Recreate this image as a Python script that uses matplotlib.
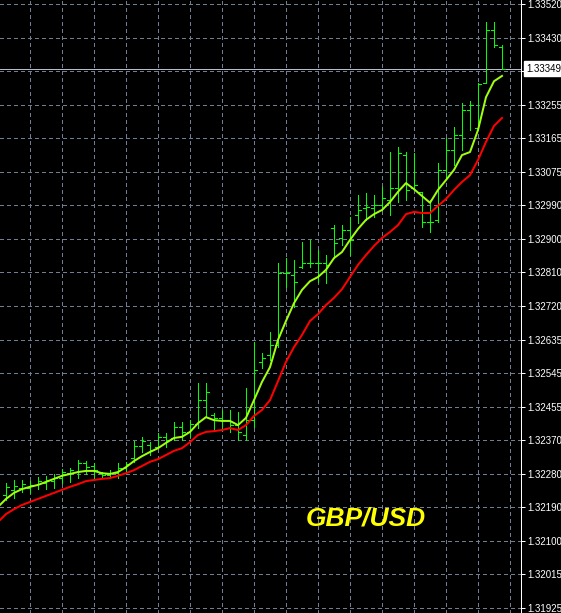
import numpy as np
import matplotlib.pyplot as plt
from matplotlib.transforms import blended_transform_factory

# OHLC bars (GBP/USD), oldest first
bar_open = [1.32223, 1.32237, 1.32242, 1.32242, 1.32250, 1.32255, 1.32260, 1.32268, 1.32281, 1.32284,
            1.32308, 1.32300, 1.32281, 1.32276, 1.32281, 1.32295, 1.32321, 1.32353, 1.32355, 1.32350,
            1.32377, 1.32374, 1.32403, 1.32390, 1.32411, 1.32474, 1.32435, 1.32427, 1.32421, 1.32408,
            1.32382, 1.32421, 1.32575, 1.32593, 1.32619, 1.32810, 1.32804, 1.32825, 1.32836, 1.32836,
            1.32836, 1.32928, 1.32902, 1.32923, 1.32963, 1.32981, 1.32981, 1.32989, 1.33002, 1.33034,
            1.33121, 1.33034, 1.33024, 1.32944, 1.32950, 1.33082, 1.33134, 1.33174, 1.33240, 1.33193,
            1.33311, 1.33451, 1.33406]
bar_high = [1.32255, 1.32263, 1.32263, 1.32260, 1.32271, 1.32274, 1.32279, 1.32292, 1.32295, 1.32316,
            1.32313, 1.32308, 1.32284, 1.32289, 1.32308, 1.32311, 1.32366, 1.32377, 1.32363, 1.32387,
            1.32387, 1.32416, 1.32416, 1.32421, 1.32519, 1.32519, 1.32440, 1.32448, 1.32448, 1.32443,
            1.32506, 1.32627, 1.32598, 1.32654, 1.32836, 1.32849, 1.32844, 1.32892, 1.32897, 1.32870,
            1.32857, 1.32936, 1.32936, 1.32958, 1.33016, 1.33021, 1.33016, 1.33037, 1.33129, 1.33142,
            1.33129, 1.33127, 1.33024, 1.33002, 1.33100, 1.33166, 1.33195, 1.33259, 1.33264, 1.33311,
            1.33472, 1.33472, 1.33412]
bar_low = [1.32210, 1.32215, 1.32231, 1.32229, 1.32239, 1.32239, 1.32242, 1.32255, 1.32258, 1.32268,
           1.32279, 1.32263, 1.32268, 1.32268, 1.32268, 1.32281, 1.32311, 1.32337, 1.32329, 1.32350,
           1.32350, 1.32369, 1.32369, 1.32377, 1.32400, 1.32429, 1.32395, 1.32395, 1.32390, 1.32369,
           1.32369, 1.32403, 1.32559, 1.32580, 1.32614, 1.32773, 1.32720, 1.32823, 1.32825, 1.32786,
           1.32783, 1.32849, 1.32884, 1.32857, 1.32942, 1.32950, 1.32958, 1.32976, 1.32963, 1.32997,
           1.33002, 1.33029, 1.32931, 1.32918, 1.32944, 1.33060, 1.33095, 1.33134, 1.33187, 1.33187,
           1.33311, 1.33406, 1.33349]
bar_close = [1.32245, 1.32247, 1.32252, 1.32250, 1.32260, 1.32263, 1.32268, 1.32284, 1.32289, 1.32308,
             1.32297, 1.32289, 1.32276, 1.32281, 1.32295, 1.32305, 1.32353, 1.32366, 1.32342, 1.32377,
             1.32369, 1.32403, 1.32390, 1.32411, 1.32474, 1.32495, 1.32427, 1.32421, 1.32408, 1.32390,
             1.32421, 1.32553, 1.32585, 1.32619, 1.32810, 1.32810, 1.32786, 1.32836, 1.32836, 1.32836,
             1.32831, 1.32889, 1.32923, 1.32897, 1.32976, 1.32984, 1.32989, 1.33008, 1.33034, 1.33127,
             1.33029, 1.33042, 1.32944, 1.32944, 1.33082, 1.33134, 1.33174, 1.33240, 1.33253, 1.33309,
             1.33451, 1.33412, 1.33349]

# moving averages, starting one bar left of the first visible bar
fast_ma = [1.32192, 1.32213, 1.32229, 1.32239, 1.32245, 1.32250, 1.32258, 1.32266, 1.32274, 1.32279,
           1.32284, 1.32287, 1.32287, 1.32281, 1.32279, 1.32284, 1.32297, 1.32313, 1.32326, 1.32337,
           1.32347, 1.32361, 1.32374, 1.32377, 1.32390, 1.32413, 1.32429, 1.32421, 1.32419, 1.32419,
           1.32408, 1.32427, 1.32474, 1.32522, 1.32561, 1.32633, 1.32683, 1.32730, 1.32765, 1.32788,
           1.32799, 1.32818, 1.32849, 1.32865, 1.32897, 1.32926, 1.32950, 1.32965, 1.32976, 1.32997,
           1.33024, 1.33047, 1.33031, 1.33013, 1.32995, 1.33029, 1.33055, 1.33082, 1.33121, 1.33129,
           1.33187, 1.33274, 1.33316, 1.33330]
slow_ma = [1.32152, 1.32173, 1.32186, 1.32197, 1.32205, 1.32213, 1.32221, 1.32229, 1.32237, 1.32245,
           1.32252, 1.32260, 1.32263, 1.32266, 1.32268, 1.32274, 1.32281, 1.32289, 1.32300, 1.32311,
           1.32318, 1.32329, 1.32340, 1.32347, 1.32363, 1.32382, 1.32390, 1.32392, 1.32395, 1.32400,
           1.32395, 1.32408, 1.32432, 1.32448, 1.32474, 1.32524, 1.32575, 1.32614, 1.32646, 1.32683,
           1.32701, 1.32725, 1.32744, 1.32767, 1.32799, 1.32831, 1.32857, 1.32881, 1.32902, 1.32918,
           1.32936, 1.32965, 1.32971, 1.32968, 1.32968, 1.32987, 1.33005, 1.33029, 1.33050, 1.33068,
           1.33108, 1.33156, 1.33198, 1.33219]

price_labels = ['1.31925', '1.32015', '1.32100', '1.32190', '1.32280', '1.32370', '1.32455',
                '1.32545', '1.32635', '1.32720', '1.32810', '1.32900', '1.32990', '1.33075',
                '1.33165', '1.33255', '', '1.33430', '1.33520']
last_price = 1.33349
pair = 'GBP/USD'

W, H = 561, 613
px = 0.72  # one pixel in points at dpi 100

fig = plt.figure(figsize=(W / 100, H / 100), dpi=100, facecolor='black')
ax = fig.add_axes([0, 0, 521 / W, 1], facecolor='black')

n = len(bar_close)
x = np.arange(n)

# grid
grid_kw = dict(color='#6f7f8f', lw=px, ls=(0, (3, 3)), antialiased=False, zorder=1)
tick_pos = np.linspace(1.31925, 1.33520, len(price_labels))
for y in tick_pos:
    ax.axhline(y, **grid_kw)
for xv in range(3, 64, 4):
    ax.axvline(xv, **grid_kw)

# current price line
ax.axhline(last_price, color='#b8bcc4', lw=px, antialiased=False, zorder=2)

# OHLC bars
bar_col = '#00ff00'
ax.vlines(x, bar_low, bar_high, color=bar_col, lw=px, antialiased=False, zorder=3)
ax.hlines(bar_open, x - 0.375, x, color=bar_col, lw=px, antialiased=False, zorder=3)
ax.hlines(bar_close, x, x + 0.375, color=bar_col, lw=px, antialiased=False, zorder=3)

# moving averages
xm = np.arange(-1, n)
ax.plot(xm, slow_ma, color='#ff0000', lw=2 * px, zorder=4)
ax.plot(xm, fast_ma, color='#a0ff10', lw=2 * px, zorder=5)

ax.set_xlim(-0.75, 64.375)
ax.set_ylim(1.319118, 1.335305)
ax.set_xticks([])

ax.yaxis.tick_right()
ax.set_yticks(tick_pos, price_labels)
ax.tick_params(axis='y', colors='white', length=3, width=px, labelsize=7, pad=1.5)
for lab in ax.get_yticklabels():
    lab.set_family('Liberation Sans')
for side in ['left', 'top', 'bottom']:
    ax.spines[side].set_visible(False)
ax.spines['right'].set_color('white')
ax.spines['right'].set_linewidth(px)

# price box
trans = blended_transform_factory(ax.transAxes, ax.transData)
ax.text(1.0 + 5 / 521, last_price, f'{last_price:.5f}', transform=trans, ha='left', va='center',
        fontsize=7, family='Liberation Sans', color='black', zorder=6,
        bbox=dict(boxstyle='square,pad=0.25', facecolor='white', edgecolor='white'))

fig.text(366 / W, 1 - 518 / H, pair, ha='center', va='center', fontsize=19,
         fontweight='bold', fontstyle='italic', family='Liberation Sans', color='#ffff00')

fig.savefig('out.png', dpi=100, facecolor='black')
